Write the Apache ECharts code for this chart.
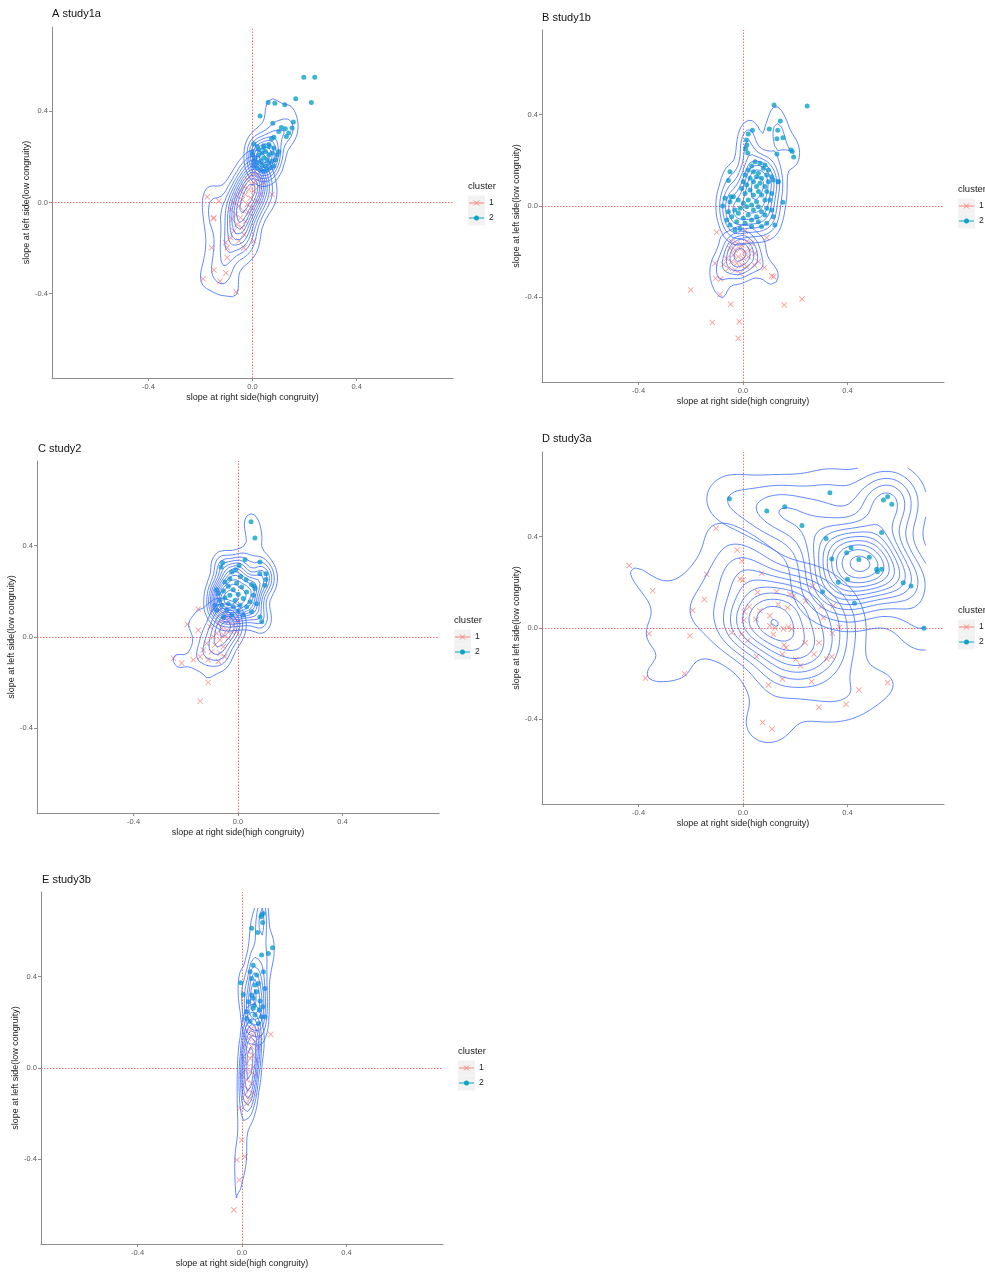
<!DOCTYPE html>
<html><head><meta charset="utf-8">
<script src="https://cdn.jsdelivr.net/npm/echarts@6/dist/echarts.min.js"></script>
<style>html,body{margin:0;padding:0;background:#fff}#c{width:985px;height:1273px}</style>
</head><body><div id="c"></div>
<script>
// ---------- data (slope at right side, slope at left side) ----------
const A_c1 = [[-0.174,0.025],[-0.151,-0.070],[-0.157,-0.198],[-0.097,-0.198],[-0.148,-0.296],[-0.102,-0.309],[-0.190,-0.335],[-0.125,-0.345],[-0.063,-0.392],
[0.005,0.130],[0.018,0.122],[-0.008,0.115],[0.031,0.108],[-0.020,0.101],[0.011,0.093],[0.043,0.086],[-0.001,0.079],[-0.033,0.071],[0.024,0.071],[-0.014,0.057],[-0.046,0.050],[0.005,0.050],[-0.027,0.035],[-0.059,0.028],[0.031,0.035],[-0.008,0.020],[-0.040,0.013],[0.018,0.006],[-0.072,-0.001],[-0.020,-0.009],[-0.052,-0.016],[-0.001,-0.023],[-0.084,-0.031],[-0.033,-0.038],[-0.065,-0.052],[-0.014,-0.045],[-0.046,-0.067],[-0.078,-0.074],[-0.027,-0.082],[-0.059,-0.096],[-0.040,-0.111],[-0.072,-0.125],[-0.033,-0.140],[-0.084,-0.155],[-0.052,-0.169],[-0.103,-0.176],[-0.097,-0.242],[-0.033,-0.198],[0.005,-0.169],[-0.129,0.006],[0.075,0.035],[-0.148,-0.067]];
const A_c2 = [[0.197,0.550],[0.239,0.550],[0.166,0.455],[0.226,0.439],[0.060,0.439],[0.086,0.436],[0.124,0.429],[0.029,0.380],[0.078,0.348],[0.111,0.329],[0.126,0.324],[0.157,0.353],[0.152,0.327],[0.139,0.305],[0.130,0.290],[0.101,0.312],[0.082,0.286],[0.073,0.280],[0.063,0.254],[0.043,0.249],[0.005,0.258],[0.018,0.246],[-0.001,0.222],
[-0.001,0.210],[0.011,0.195],[0.024,0.210],[0.037,0.217],[0.050,0.224],[0.063,0.210],[0.075,0.217],[0.043,0.195],[0.056,0.188],[0.031,0.181],[0.018,0.173],[0.005,0.159],[0.037,0.166],[0.050,0.159],[0.063,0.173],[0.075,0.181],[0.088,0.188],[0.031,0.144],[0.043,0.137],[0.056,0.144],[0.018,0.152],[0.069,0.152],[0.082,0.159],[0.005,0.181],[0.095,0.210],[0.101,0.224],[0.082,0.239],[0.063,0.246],[0.043,0.239],[0.024,0.232]];

const B_c1 = [[-0.101,-0.115],[0.008,-0.109],[0.091,-0.138],[-0.107,-0.251],[-0.075,-0.255],[0.082,-0.270],[0.043,-0.258],[-0.105,-0.316],[-0.085,-0.319],[0.110,-0.306],[0.117,-0.309],[-0.088,-0.386],[-0.200,-0.367],[-0.047,-0.430],[-0.117,-0.510],[-0.014,-0.506],[-0.018,-0.579],[0.158,-0.433],[0.226,-0.407],
[-0.043,-0.156],[-0.024,-0.163],[-0.005,-0.171],[0.014,-0.156],[-0.050,-0.185],[-0.031,-0.192],[-0.011,-0.188],[0.008,-0.200],[0.027,-0.192],[-0.037,-0.214],[-0.018,-0.222],[0.001,-0.229],[0.020,-0.222],[-0.043,-0.243],[-0.024,-0.251],[-0.005,-0.258],[-0.056,-0.273],[-0.031,-0.280],[-0.011,-0.294],[0.014,-0.265],[0.033,-0.163],[0.046,-0.207],[-0.063,-0.229],[0.059,-0.243]];
const B_c2 = [[0.119,0.442],[0.246,0.437],[0.143,0.372],[0.036,0.331],[0.101,0.337],[0.133,0.331],[0.130,0.294],[0.153,0.299],[0.020,0.315],[0.013,0.289],[0.015,0.267],[0.184,0.245],[0.189,0.238],[0.194,0.214],[0.130,0.227],[0.135,0.106],[0.153,0.016],[-0.056,0.112],[-0.046,0.041],[-0.078,0.000],[0.010,0.250],[0.018,0.232],
[0.046,0.194],[0.065,0.187],[0.084,0.179],[0.033,0.175],[0.078,0.165],[0.097,0.157],[0.020,0.157],[0.040,0.150],[0.059,0.143],[0.008,0.136],[0.091,0.136],[0.110,0.128],[0.052,0.128],[0.071,0.121],[0.027,0.121],[0.001,0.106],[0.040,0.106],[0.065,0.099],[0.097,0.106],[0.116,0.114],[0.014,0.092],[0.052,0.085],[0.084,0.085],[-0.050,0.150],[0.135,0.106],[-0.005,0.077],[0.027,0.070],[0.059,0.063],[0.091,0.063],[0.008,0.055],[0.040,0.048],[0.110,0.055],[0.071,0.048],[-0.037,0.041],[-0.018,0.026],[0.020,0.026],[0.052,0.019],[0.084,0.026],[0.001,0.012],[0.033,0.004],[0.103,0.026],[-0.069,0.034],[-0.050,0.019],[-0.011,-0.010],[0.014,-0.003],[0.059,-0.003],[0.091,-0.010],[0.110,-0.017],[-0.031,-0.017],[-0.056,-0.025],[0.040,-0.017],[0.071,-0.025],[-0.018,-0.032],[0.020,-0.039],[0.052,-0.047],[0.084,-0.039],[-0.043,-0.047],[0.001,-0.054],[0.116,-0.047],[-0.062,-0.061],[0.033,-0.061],[-0.024,-0.069],[0.008,-0.076],[0.059,-0.069],[0.091,-0.076],[-0.050,-0.083],[-0.011,-0.098],[0.033,-0.090],[0.071,-0.090],[0.122,-0.083],[-0.031,-0.105]];

const C_c1 = [[-0.152,0.122],[-0.094,0.125],[-0.194,0.055],[-0.152,0.030],[-0.247,-0.093],[-0.216,-0.114],[-0.171,-0.100],[-0.114,-0.199],[-0.145,-0.281],
[-0.069,0.117],[-0.050,0.096],[-0.031,0.088],[-0.011,0.081],[-0.056,0.074],[-0.037,0.067],[-0.075,0.059],[-0.018,0.052],[0.001,0.067],[-0.062,0.038],[-0.043,0.030],[-0.024,0.023],[-0.082,0.016],[-0.056,0.009],[-0.005,0.023],[-0.107,0.045],[-0.094,0.001],[-0.069,-0.013],[-0.037,-0.006],[-0.120,-0.028],[-0.088,-0.035],[-0.056,-0.042],[-0.133,-0.057],[-0.101,-0.064],[-0.069,-0.071],[-0.145,-0.086],[-0.114,-0.100],[-0.075,-0.107],[-0.050,-0.086]];
const C_c2 = [[0.050,0.504],[0.065,0.433],[-0.059,0.325],[-0.065,0.306],[0.027,0.338],[0.084,0.328],[0.084,0.277],[0.107,0.277],[0.107,0.252],[0.103,0.226],[0.061,0.223],
[0.004,0.313],[-0.009,0.294],[-0.024,0.284],[0.010,0.265],[-0.031,0.255],[0.031,0.251],[-0.050,0.241],[-0.005,0.236],[0.052,0.230],[-0.037,0.222],[0.014,0.219],[-0.018,0.207],[0.065,0.212],[-0.056,0.201],[0.033,0.197],[-0.082,0.207],[0.001,0.187],[-0.031,0.183],[0.059,0.183],[-0.050,0.172],[0.020,0.168],[-0.011,0.161],[-0.069,0.161],[0.046,0.154],[-0.037,0.146],[0.008,0.139],[-0.018,0.132],[-0.062,0.139],[0.033,0.132],[0.071,0.146],[-0.043,0.117],[0.001,0.114],[-0.082,0.117],[0.052,0.110],[-0.024,0.096],[0.020,0.096],[0.084,0.088],[-0.056,0.088],[0.091,0.067],[-0.075,0.190],[-0.088,0.139]];

const D_c1 = [[-0.436,0.273],[-0.346,0.163],[-0.360,-0.025],[-0.374,-0.219],[-0.224,-0.200],[-0.203,-0.034],[-0.193,0.077],[-0.148,0.125],[-0.139,0.235],[-0.103,0.436],[-0.022,0.341],[-0.005,0.294],[-0.011,0.214],[0.000,0.210],[0.072,0.239],
[0.056,0.156],[0.129,0.159],[0.180,0.147],[0.195,0.141],[0.240,0.118],[0.135,0.103],[0.171,0.089],[0.065,0.076],[0.024,0.093],[0.005,0.071],[0.004,0.034],[0.050,0.038],[0.103,0.010],[0.123,-0.001],[0.116,-0.028],[0.155,-0.004],[0.174,0.004],[0.186,-0.004],[0.103,0.054],[-0.043,-0.020],[-0.005,-0.026],[0.018,-0.055],[0.052,-0.125],[0.151,-0.114],[0.158,-0.074],[0.165,-0.086],[0.202,-0.137],[0.221,-0.165],[0.238,-0.064],[0.272,-0.114],[0.291,-0.064],[0.321,-0.136],[0.342,-0.023],[0.308,0.045],[0.299,0.093],[0.346,0.098],[0.267,0.184],[0.340,-0.125],[0.369,0.003],[0.098,-0.249],[0.151,-0.223],[0.263,-0.235],[0.291,-0.347],[0.395,-0.334],[0.444,-0.271],[0.554,-0.239],[0.075,-0.413],[0.111,-0.442]];
const D_c2 = [[-0.052,0.566],[0.333,0.592],[0.091,0.512],[0.160,0.531],[0.538,0.560],[0.554,0.574],[0.570,0.541],[0.226,0.448],[0.318,0.392],[0.531,0.418],[0.414,0.351],[0.397,0.329],[0.444,0.300],[0.484,0.309],[0.340,0.302],[0.512,0.257],[0.515,0.246],[0.531,0.257],[0.400,0.213],[0.365,0.200],[0.614,0.198],[0.644,0.184],[0.305,0.159],[0.427,0.108],[0.693,-0.001]];

const E_c1 = [[0.110,0.147],[0.037,0.173],[0.056,0.166],[0.018,0.159],[0.043,0.144],[0.069,0.137],[0.024,0.130],[0.050,0.115],[0.011,0.101],[0.037,0.093],[0.063,0.086],[0.024,0.071],[0.043,0.057],[0.005,0.050],[0.031,0.042],[0.056,0.035],[0.018,0.020],[0.043,0.006],[0.011,-0.009],[0.031,-0.016],[-0.001,-0.031],[0.050,-0.031],[0.018,-0.052],[0.037,-0.067],[0.005,-0.074],[0.024,-0.096],[0.043,-0.111],[0.011,-0.118],[0.031,-0.133],[0.018,-0.155],[-0.008,-0.176],[-0.001,-0.315],[-0.020,-0.402],[0.011,-0.388],[-0.010,-0.490],[-0.031,-0.621]];
const E_c2 = [[0.075,0.669],[0.082,0.676],[0.073,0.662],[0.079,0.637],[0.037,0.611],[0.060,0.593],[0.117,0.526],[0.075,0.494],[0.101,0.501],[0.043,0.450],[0.082,0.421],[0.031,0.421],[0.088,0.348],[-0.005,0.373],
[0.005,0.322],[0.018,0.246],[0.047,0.273],[0.066,0.254],[0.043,0.305],[0.056,0.334],[0.063,0.370],[0.037,0.392],[0.069,0.293],[0.050,0.232],[0.018,0.217],[0.075,0.224],[0.088,0.224],[0.031,0.203],[0.063,0.195],[0.043,0.261],[0.024,0.290],[0.056,0.407],[0.050,0.363],[0.079,0.268],[0.037,0.319]];

const tickValues = [-0.4, 0, 0.4];
const refValues = [0];
const panelTitles = ['A study1a', 'B study1b', 'C study2', 'D study3a', 'E study3b'];
const xAxisName = 'slope at right side(high congruity)';
const yAxisName = 'slope at left side(low congruity)';
const legendTitle = 'cluster';
const clusterNames = ['1', '2'];

// ---------- layout & style ----------
const FONT = '"Liberation Sans", Arial, sans-serif';
const COL1 = '#F7857C', COL2 = '#0CA3C4', CONTOUR = '#3a6cff', REF = '#F4625E';
const XSYM = 'path://M0,1L1,0L5,4L9,0L10,1L6,5L10,9L9,10L5,6L1,10L0,9L4,5Z';
const panels = [
  {c1: A_c1, c2: A_c2, grid: {left: 52, top: 27, width: 401, height: 351}, title: [52, 15], legend: [468, 186]},
  {c1: B_c1, c2: B_c2, grid: {left: 542, top: 30, width: 402, height: 352}, title: [542, 19], legend: [958, 189]},
  {c1: C_c1, c2: C_c2, grid: {left: 37, top: 461, width: 402, height: 352}, title: [38, 450], legend: [454, 620]},
  {c1: D_c1, c2: D_c2, grid: {left: 542, top: 452, width: 402, height: 352}, title: [542, 440], legend: [958, 610]},
  {c1: E_c1, c2: E_c2, grid: {left: 41, top: 892, width: 402, height: 352}, title: [42, 881], legend: [458, 1051]}
];

// ---------- 2D kernel density (MASS::kde2d + bandwidth.nrd) and contours ----------
function quant(s, p) { const h = (s.length - 1) * p, lo = Math.floor(h); const hi = Math.min(lo + 1, s.length - 1); return s[lo] + (h - lo) * (s[hi] - s[lo]); }
function bwnrd(x) {
  const s = x.slice().sort((a, b) => a - b), n = x.length;
  const m = x.reduce((a, b) => a + b, 0) / n;
  const sd = Math.sqrt(x.reduce((a, b) => a + (b - m) * (b - m), 0) / (n - 1));
  const h = (quant(s, 0.75) - quant(s, 0.25)) / 1.34;
  return 4 * 1.06 * Math.min(sd, h) * Math.pow(n, -0.2);
}
function dn(u) { return Math.exp(-0.5 * u * u) / Math.sqrt(2 * Math.PI); }
function kde2d(xs, ys, n, lo, hi) {
  const hx = bwnrd(xs) / 4, hy = bwnrd(ys) / 4, N = xs.length;
  const g = []; for (let i = 0; i < n; i++) g.push(lo + (hi - lo) * i / (n - 1));
  const ax = g.map(v => xs.map(x => dn((v - x) / hx)));
  const ay = g.map(v => ys.map(y => dn((v - y) / hy)));
  const z = [];
  for (let i = 0; i < n; i++) { z.push([]); for (let j = 0; j < n; j++) { let s = 0; for (let k = 0; k < N; k++) s += ax[i][k] * ay[j][k]; z[i].push(s / (N * hx * hy)); } }
  return {g, z};
}
function pretty(lo, hi, nb) {
  const cell = (hi - lo) / nb; const U = Math.pow(10, Math.floor(Math.log10(cell)));
  let unit = U; const h = 1.5, h5 = 0.5 + 1.5 * h;
  if (2 * U - cell < h * (cell - unit)) { unit = 2 * U; if (5 * U - cell < h5 * (cell - unit)) { unit = 5 * U; if (10 * U - cell < h * (cell - unit)) unit = 10 * U; } }
  const a = Math.floor(lo / unit + 1e-7), b = Math.ceil(hi / unit - 1e-7), out = [];
  for (let k = a; k <= b; k++) out.push(k * unit);
  return out;
}
function isolines(g, z, lv) {
  const n = g.length, segs = [];
  for (let i = 0; i < n - 1; i++) for (let j = 0; j < n - 1; j++) {
    const a = z[i][j] > lv, b = z[i + 1][j] > lv, c = z[i + 1][j + 1] > lv, d = z[i][j + 1] > lv;
    if (a === b && b === c && c === d) continue;
    const ip = (i1, j1, i2, j2) => { const u = z[i1][j1], w = z[i2][j2], t = (lv - u) / (w - u); return [g[i1] + (g[i2] - g[i1]) * t, g[j1] + (g[j2] - g[j1]) * t]; };
    const E = {
      B: () => ({k: 'h' + i + '_' + j, p: ip(i, j, i + 1, j)}),
      R: () => ({k: 'v' + (i + 1) + '_' + j, p: ip(i + 1, j, i + 1, j + 1)}),
      T: () => ({k: 'h' + i + '_' + (j + 1), p: ip(i, j + 1, i + 1, j + 1)}),
      L: () => ({k: 'v' + i + '_' + j, p: ip(i, j, i, j + 1)})
    };
    const cr = []; if (a !== b) cr.push('B'); if (b !== c) cr.push('R'); if (c !== d) cr.push('T'); if (d !== a) cr.push('L');
    if (cr.length === 2) segs.push([E[cr[0]](), E[cr[1]]()]);
    else if (cr.length === 4) {
      const ctr = (z[i][j] + z[i + 1][j] + z[i + 1][j + 1] + z[i][j + 1]) / 4 > lv;
      if (ctr === a) { segs.push([E.B(), E.R()]); segs.push([E.T(), E.L()]); }
      else { segs.push([E.L(), E.B()]); segs.push([E.R(), E.T()]); }
    }
  }
  const map = new Map();
  segs.forEach((s, idx) => s.forEach(e => { if (!map.has(e.k)) map.set(e.k, []); map.get(e.k).push(idx); }));
  const used = new Array(segs.length).fill(false), lines = [];
  const extend = (arr, atEnd) => {
    for (;;) {
      const last = atEnd ? arr[arr.length - 1] : arr[0];
      const cand = (map.get(last.k) || []).find(c => !used[c]);
      if (cand === undefined) break;
      used[cand] = true; const s = segs[cand]; const nx = s[0].k === last.k ? s[1] : s[0];
      if (atEnd) arr.push(nx); else arr.unshift(nx);
    }
  };
  for (let s0 = 0; s0 < segs.length; s0++) {
    if (used[s0]) continue; used[s0] = true;
    const line = [segs[s0][0], segs[s0][1]];
    extend(line, true); extend(line, false);
    lines.push(line.map(e => e.p));
  }
  return lines;
}
function contourData(pts) {
  const {g, z} = kde2d(pts.map(p => p[0]), pts.map(p => p[1]), 100, -0.7, 0.7);
  let zmin = Infinity, zmax = -Infinity;
  z.forEach(r => r.forEach(v => { if (v < zmin) zmin = v; if (v > zmax) zmax = v; }));
  const levels = pretty(zmin, zmax, 10).filter(l => l > zmin && l < zmax);
  const data = [];
  levels.forEach(lv => isolines(g, z, lv).forEach(line => { line.forEach(p => data.push(p)); data.push([NaN, NaN]); }));
  return data;
}

// ---------- build option ----------
const grids = [], xAxes = [], yAxes = [], series = [], titles = [], graphics = [];
const axisCommon = {
  type: 'value', min: -0.77, max: 0.77, nameLocation: 'middle',
  nameTextStyle: {fontSize: 9, color: '#1a1a1a', fontFamily: FONT},
  axisLine: {show: true, onZero: false, lineStyle: {color: '#8c8c8c', width: 1}},
  axisTick: {show: true, length: 3, customValues: tickValues, lineStyle: {color: '#8c8c8c'}},
  axisLabel: {customValues: tickValues, formatter: v => Number(v).toFixed(1), fontSize: 7.5, color: '#5a5a5a', fontFamily: FONT},
  splitLine: {show: false}, axisPointer: {show: false}
};
const refStyle = {type: [1.5, 1.5], color: REF, width: 1, opacity: 0.9};
panels.forEach((p, i) => {
  grids.push(Object.assign({containLabel: false}, p.grid));
  xAxes.push(Object.assign({}, axisCommon, {gridIndex: i, name: xAxisName, nameGap: 15,
    axisLabel: Object.assign({}, axisCommon.axisLabel, {margin: 5})}));
  yAxes.push(Object.assign({}, axisCommon, {gridIndex: i, name: yAxisName, nameGap: 19,
    axisLabel: Object.assign({}, axisCommon.axisLabel, {margin: 4})}));
  series.push({
    type: 'scatter', name: clusterNames[0], xAxisIndex: i, yAxisIndex: i, data: p.c1,
    symbol: XSYM, symbolSize: 6, itemStyle: {color: COL1}, z: 2, silent: true,
    markLine: {silent: true, symbol: ['none', 'none'], label: {show: false}, animation: false, z: 1,
      lineStyle: refStyle,
      data: refValues.map(v => ({xAxis: v, lineStyle: refStyle})).concat(refValues.map(v => ({yAxis: v, lineStyle: refStyle})))}
  });
  series.push({type: 'scatter', name: clusterNames[1], xAxisIndex: i, yAxisIndex: i, data: p.c2,
    symbol: 'circle', symbolSize: 5, itemStyle: {color: COL2}, z: 2, silent: true});
  [p.c1, p.c2].forEach(pts => series.push({
    type: 'line', xAxisIndex: i, yAxisIndex: i, data: contourData(pts), showSymbol: false, symbol: 'none',
    connectNulls: false, lineStyle: {color: CONTOUR, width: 0.8}, z: 3, silent: true, animation: false
  }));
  titles.push({text: panelTitles[i], left: p.title[0], top: p.title[1] - 7, padding: 0,
    textStyle: {fontSize: 11, fontWeight: 'normal', color: '#111', fontFamily: FONT}});
  const [lx, ly] = p.legend;
  graphics.push({type: 'text', x: lx, y: ly, style: {text: legendTitle, fontSize: 9.5, fontFamily: FONT, fill: '#1a1a1a', verticalAlign: 'middle'}});
  [[clusterNames[0], COL1, 'x'], [clusterNames[1], COL2, 'o']].forEach((c, k) => {
    const cy = ly + 17 + k * 15;
    graphics.push({type: 'rect', shape: {x: lx, y: cy - 7.5, width: 17, height: 15}, style: {fill: '#F2F2F2'}});
    graphics.push({type: 'line', shape: {x1: lx + 1, y1: cy, x2: lx + 16, y2: cy}, style: {stroke: c[1], lineWidth: 1}});
    if (c[2] === 'x') {
      graphics.push({type: 'line', shape: {x1: lx + 6, y1: cy - 2.5, x2: lx + 11, y2: cy + 2.5}, style: {stroke: c[1], lineWidth: 1}});
      graphics.push({type: 'line', shape: {x1: lx + 6, y1: cy + 2.5, x2: lx + 11, y2: cy - 2.5}, style: {stroke: c[1], lineWidth: 1}});
    } else {
      graphics.push({type: 'circle', shape: {cx: lx + 8.5, cy: cy, r: 2.5}, style: {fill: c[1]}});
    }
    graphics.push({type: 'text', x: lx + 21, y: cy, style: {text: c[0], fontSize: 8.5, fontFamily: FONT, fill: '#1a1a1a', verticalAlign: 'middle'}});
  });
});

const chart = echarts.init(document.getElementById('c'), null, {renderer: 'canvas'});
chart.setOption({
  animation: false, backgroundColor: '#fff', tooltip: {show: false},
  title: titles, grid: grids, xAxis: xAxes, yAxis: yAxes, series: series, graphic: graphics
});
</script>
</body></html>
